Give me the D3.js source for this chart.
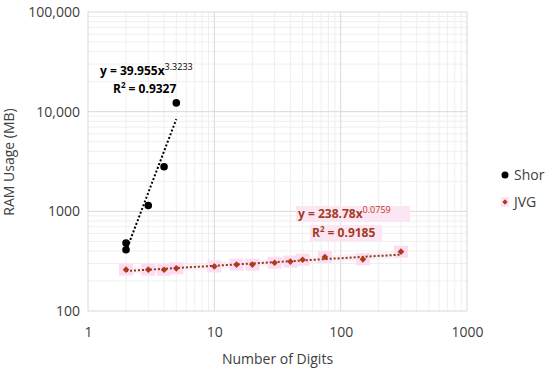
<!DOCTYPE html>
<html>
<head>
<meta charset="utf-8">
<script src="https://cdn.jsdelivr.net/npm/d3@7"></script>
<style>
  body { margin: 0; background: #fff; }
  svg text { font-family: "Open Sans", "Liberation Sans", sans-serif; }
</style>
</head>
<body>
<div id="chart"></div>
<script>
// data
var shorDigits = [2, 2, 3, 4, 5];
var shorRam = [480, 412, 1146, 2800, 12250];
var jvgDigits = [2, 3, 4, 5, 10, 15, 20, 30, 40, 50, 75, 150, 300];
var jvgRam = [260, 260, 259, 268, 280, 292, 292, 305, 313, 327, 348, 330, 394];
var xTicks = [1, 10, 100, 1000];
var yTicks = [100, 1000, 10000, 100000];
var yTickLabels = ["100", "1000", "10,000", "100,000"];
// power trendlines y = a * x^b
var shorFit = {a: 39.955, b: 3.3233, r2: "0.9327"};
var jvgFit = {a: 238.78, b: 0.0759, r2: "0.9185"};

var svgWidth = 550;
var svgHeight = 370;
var margin = {top: 12, right: 83, bottom: 59, left: 88};
var width = svgWidth - margin.left - margin.right;
var height = svgHeight - margin.top - margin.bottom;

var svg = d3.select("#chart")
    .append("svg")
    .attr("width", svgWidth)
    .attr("height", svgHeight);

var chartGroup = svg.append("g")
    .attr("transform", `translate(${margin.left},${margin.top})`);

var x = d3.scaleLog().domain([1, 1000]).range([0, width]);
var y = d3.scaleLog().domain([100, 100000]).range([height, 0]);

// minor grid
var minorX = [], minorY = [];
[1, 10, 100].forEach(function(d) {
    for (var k = 2; k <= 9; k++) minorX.push(d * k);
});
[100, 1000, 10000].forEach(function(d) {
    for (var k = 2; k <= 9; k++) minorY.push(d * k);
});

chartGroup.selectAll(".minx").data(minorX).enter().append("line")
    .attr("x1", d => x(d)).attr("x2", d => x(d))
    .attr("y1", 0).attr("y2", height)
    .attr("stroke", "#efefef").attr("stroke-width", 1);
chartGroup.selectAll(".miny").data(minorY).enter().append("line")
    .attr("x1", 0).attr("x2", width)
    .attr("y1", d => y(d)).attr("y2", d => y(d))
    .attr("stroke", "#efefef").attr("stroke-width", 1);

// major grid
chartGroup.selectAll(".majx").data(xTicks).enter().append("line")
    .attr("x1", d => x(d)).attr("x2", d => x(d))
    .attr("y1", 0).attr("y2", height)
    .attr("stroke", "#d9d9d9").attr("stroke-width", 1);
chartGroup.selectAll(".majy").data(yTicks).enter().append("line")
    .attr("x1", 0).attr("x2", width)
    .attr("y1", d => y(d)).attr("y2", d => y(d))
    .attr("stroke", "#d9d9d9").attr("stroke-width", 1);

// axes (labels only)
var xAxis = chartGroup.append("g")
    .attr("transform", `translate(0,${height})`)
    .call(d3.axisBottom(x).tickValues(xTicks).tickFormat(d3.format("d")).tickSize(0).tickPadding(16));
var yAxis = chartGroup.append("g")
    .call(d3.axisLeft(y).tickValues(yTicks).tickFormat((d, i) => yTickLabels[i]).tickSize(0).tickPadding(8));
[xAxis, yAxis].forEach(function(a) {
    a.select(".domain").remove();
    a.selectAll("text").attr("font-size", 14).attr("fill", "#404040");
});

// trendlines
chartGroup.append("line")
    .attr("x1", x(2)).attr("y1", y(shorFit.a * Math.pow(2, shorFit.b)))
    .attr("x2", x(5)).attr("y2", y(shorFit.a * Math.pow(5, shorFit.b)))
    .attr("stroke", "#000").attr("stroke-width", 2).attr("stroke-dasharray", "2,2");

chartGroup.append("line")
    .attr("x1", x(2)).attr("y1", y(jvgFit.a * Math.pow(2, jvgFit.b)))
    .attr("x2", x(300)).attr("y2", y(jvgFit.a * Math.pow(300, jvgFit.b)))
    .attr("stroke", "#fbe3f3").attr("stroke-width", 7).attr("opacity", 0.5);

// pink glow behind JVG markers
chartGroup.selectAll(".jvgbg").data(jvgDigits).enter().append("rect")
    .attr("x", d => x(d) - 7)
    .attr("y", (d, i) => y(jvgRam[i]) - 6)
    .attr("width", 14).attr("height", 12)
    .attr("fill", "#fbdcf2");

chartGroup.append("line")
    .attr("x1", x(2)).attr("y1", y(jvgFit.a * Math.pow(2, jvgFit.b)))
    .attr("x2", x(300)).attr("y2", y(jvgFit.a * Math.pow(300, jvgFit.b)))
    .attr("stroke", "#8a3c14").attr("stroke-width", 2).attr("stroke-dasharray", "2,2");

// markers
chartGroup.selectAll(".shor").data(shorDigits).enter().append("circle")
    .attr("cx", d => x(d))
    .attr("cy", (d, i) => y(shorRam[i]))
    .attr("r", 3.8)
    .attr("fill", "#000");

var diamond = d3.symbol().type(d3.symbolSquare).size(22);
chartGroup.selectAll(".jvg").data(jvgDigits).enter().append("path")
    .attr("d", diamond)
    .attr("transform", (d, i) => `translate(${x(d)},${y(jvgRam[i])}) rotate(45)`)
    .attr("fill", "#b03a18");

// equations
var eq1 = chartGroup.append("text")
    .attr("x", 12).attr("y", 63)
    .attr("font-size", 12).attr("font-weight", "bold").attr("fill", "#000");
eq1.append("tspan").text("y = " + shorFit.a + "x");
eq1.append("tspan").attr("dy", -5).attr("font-size", 9).attr("font-weight", "normal").text(shorFit.b);
var r1 = chartGroup.append("text")
    .attr("x", 25).attr("y", 81)
    .attr("font-size", 12).attr("font-weight", "bold").attr("fill", "#000");
r1.append("tspan").text("R");
r1.append("tspan").attr("dy", -5).attr("font-size", 8).text("2");
r1.append("tspan").attr("dy", 5).text(" = " + shorFit.r2);

// JVG equation with pink highlight
chartGroup.append("rect").attr("x", 208).attr("y", 194).attr("width", 114).attr("height", 16).attr("fill", "#fde6f4");
chartGroup.append("rect").attr("x", 222).attr("y", 213).attr("width", 72).attr("height", 16).attr("fill", "#fde6f4");
var eq2 = chartGroup.append("text")
    .attr("x", 210).attr("y", 206)
    .attr("font-size", 12).attr("font-weight", "bold").attr("fill", "#a23b1e");
eq2.append("tspan").text("y = " + jvgFit.a + "x");
eq2.append("tspan").attr("dy", -5).attr("font-size", 9).attr("font-weight", "normal").attr("fill", "#c0392b").text(jvgFit.b);
var r2 = chartGroup.append("text")
    .attr("x", 224).attr("y", 225)
    .attr("font-size", 12).attr("font-weight", "bold").attr("fill", "#a23b1e");
r2.append("tspan").text("R");
r2.append("tspan").attr("dy", -5).attr("font-size", 8).text("2");
r2.append("tspan").attr("dy", 5).text(" = " + jvgFit.r2);

// axis titles
svg.append("text")
    .attr("transform", "translate(14,162) rotate(-90)")
    .attr("text-anchor", "middle")
    .attr("font-size", 14).attr("fill", "#404040")
    .text("RAM Usage (MB)");
svg.append("text")
    .attr("x", margin.left + width / 2).attr("y", 364)
    .attr("text-anchor", "middle")
    .attr("font-size", 14).attr("fill", "#404040")
    .text("Number of Digits");

// legend
var legend = svg.append("g").attr("transform", "translate(505,175)");
legend.append("circle").attr("cx", 0).attr("cy", 0).attr("r", 3.5).attr("fill", "#000");
legend.append("text").attr("x", 9).attr("y", 5).attr("font-size", 14).attr("fill", "#404040").text("Shor");
legend.append("rect").attr("x", -4).attr("y", 22).attr("width", 8).attr("height", 10).attr("fill", "#fde3f3");
legend.append("path").attr("d", d3.symbol().type(d3.symbolSquare).size(14)).attr("transform", "translate(0,27) rotate(45)").attr("fill", "#b03a18");
legend.append("text").attr("x", 9).attr("y", 32).attr("font-size", 14).attr("fill", "#404040").text("JVG");
</script>
</body>
</html>
